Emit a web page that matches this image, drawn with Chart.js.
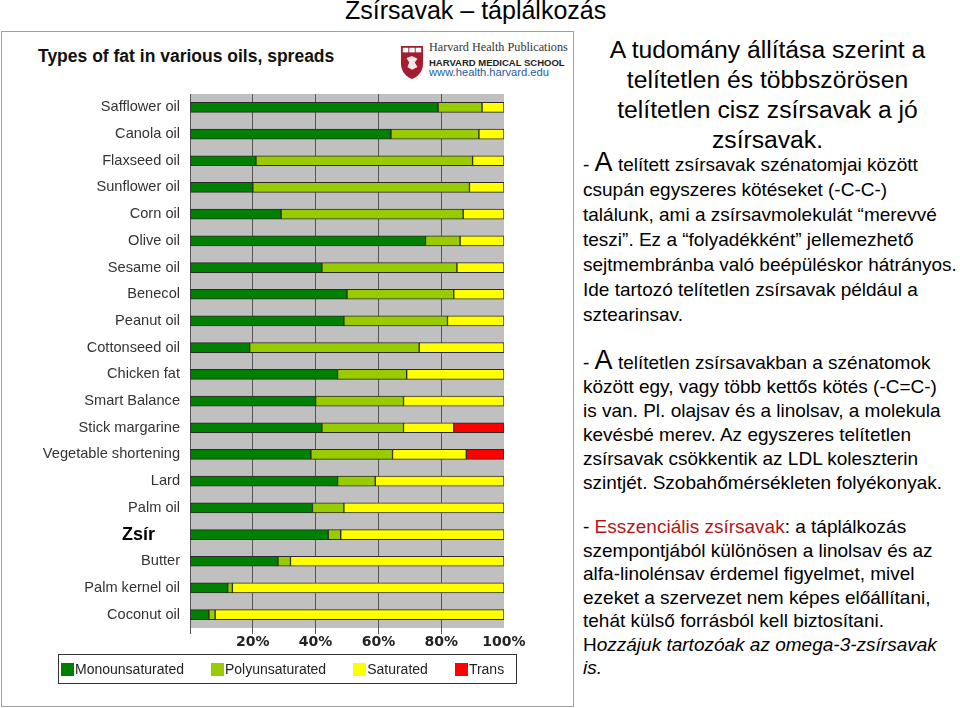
<!DOCTYPE html>
<html>
<head>
<meta charset="utf-8">
<script src="https://cdn.jsdelivr.net/npm/chart.js@4.4.1/dist/chart.umd.min.js"></script>
<style>
  html,body{margin:0;padding:0;background:#fff;}
  body{width:960px;height:708px;position:relative;overflow:hidden;font-family:"Liberation Sans",Arial,sans-serif;color:#000;}
  .abs{position:absolute;}
  #pageTitle{left:345px;top:-4px;font-size:25px;white-space:nowrap;}
  #frame{left:1px;top:31px;width:571px;height:674px;border:1px solid #a0a0a0;}
  #chartTitle{left:38px;top:46px;font-size:17.5px;font-weight:bold;color:#111;white-space:nowrap;}
  #hh1{left:429px;top:40px;font-family:"Liberation Serif",serif;font-size:12.2px;color:#333;white-space:nowrap;}
  #hh2{left:429px;top:57px;font-size:9.5px;font-weight:bold;color:#222;white-space:nowrap;}
  #hh3{left:429px;top:66px;font-size:11.2px;color:#2a5a9a;white-space:nowrap;}
  #shield{left:400px;top:45px;}
  #wrap{left:40px;top:88px;width:532px;height:568px;}
  #heading{left:575px;top:35px;width:385px;text-align:center;font-size:24.7px;line-height:30px;}
  .para{left:583px;font-size:19px;white-space:nowrap;}
  .big{font-size:27px;line-height:1px;}
  .red{color:#b01818;}
  #legend{left:58px;top:654px;width:455px;height:28px;border:1px solid #333;font-size:14px;color:#222;display:flex;align-items:center;padding-left:2px;box-sizing:content-box;white-space:nowrap;}
  #legend .item{display:flex;align-items:center;margin-right:27px;}
  #legend .sw{width:13px;height:13px;margin-right:1px;}
</style>
</head>
<body>
<div id="pageTitle" class="abs">Zsírsavak – táplálkozás</div>
<div id="frame" class="abs"></div>
<div id="chartTitle" class="abs">Types of fat in various oils, spreads</div>
<svg id="shield" class="abs" width="24" height="35" viewBox="0 0 26 38">
  <path d="M1 1 H25 V20 C25 30 18 35 13 37 C8 35 1 30 1 20 Z" fill="#a51c30"/>
  <rect x="3" y="3" width="6" height="5" fill="#fff"/>
  <rect x="10" y="3" width="6" height="5" fill="#fff"/>
  <rect x="17" y="3" width="6" height="5" fill="#fff"/>
  <path d="M7 14 L13 12 L19 15 L16 19 L19 24 L13 27 L8 24 L10 19 Z" fill="#f3e6e6"/>
</svg>
<div id="hh1" class="abs">Harvard Health Publications</div>
<div id="hh2" class="abs">HARVARD MEDICAL SCHOOL</div>
<div id="hh3" class="abs">www.health.harvard.edu</div>
<div id="wrap" class="abs"><canvas id="c"></canvas></div>
<div id="legend" class="abs"></div>

<div id="heading" class="abs">A tudomány állítása szerint a<br>telítetlen és többszörösen<br>telítetlen cisz zsírsavak a jó<br>zsírsavak.</div>
<div class="abs para" style="top:152px;line-height:25px;">- <span class="big">A</span> telített zsírsavak szénatomjai között<br>csupán egyszeres kötéseket (-C-C-)<br>találunk, ami a zsírsavmolekulát “merevvé<br>teszi”. Ez a “folyadékként” jellemezhető<br>sejtmembránba való beépüléskor hátrányos.<br>Ide tartozó telítetlen zsírsavak például a<br>sztearinsav.</div>
<div class="abs para" style="top:351px;line-height:24px;">- <span class="big">A</span> telítetlen zsírsavakban a szénatomok<br>között egy, vagy több kettős kötés (-C=C-)<br>is van. Pl. olajsav és a linolsav, a molekula<br>kevésbé merev. Az egyszeres telítetlen<br>zsírsavak csökkentik az LDL koleszterin<br>szintjét. Szobahőmérsékleten folyékonyak.</div>
<div class="abs para" style="top:515px;line-height:23.5px;">- <span class="red">Esszenciális zsírsavak</span>: a táplálkozás<br>szempontjából különösen a linolsav és az<br>alfa-linolénsav érdemel figyelmet, mivel<br>ezeket a szervezet nem képes előállítani,<br>tehát külső forrásból kell biztosítani.<br>H<i>ozzájuk tartozóak az omega-3-zsírsavak<br>is.</i></div>

<script>
const categories = ["Safflower oil","Canola oil","Flaxseed oil","Sunflower oil","Corn oil","Olive oil","Sesame oil","Benecol","Peanut oil","Cottonseed oil","Chicken fat","Smart Balance","Stick margarine","Vegetable shortening","Lard","Palm oil","Zsír","Butter","Palm kernel oil","Coconut oil"];
const monounsaturated = [79,64,21,20,29,75,42,50,49,19,47,40,42,38.5,47,39,44,28,12,6];
const polyunsaturated = [14,28,69,69,58,11,43,34,33,54,22,28,26,26,12,10,4,4,1.5,2];
const saturated = [7,8,10,11,13,14,15,16,18,27,31,32,16,23.5,41,51,52,68,86.5,92];
const trans = [null,null,null,null,null,null,null,null,null,null,null,null,16,12,null,null,null,null,null,null];
const seriesNames = ["Monounsaturated","Polyunsaturated","Saturated","Trans"];
const xTickValues = [20,40,60,80,100];

const colors = ["#008000","#99cc00","#ffff00","#ff0000"];
const highlightLabel = "Zsír";

const bgPlugin = {
  id:'bg',
  beforeDraw(chart){
    const {ctx, chartArea:a} = chart;
    ctx.save();
    ctx.fillStyle = '#c0c0c0';
    ctx.fillRect(a.left, a.top, a.right-a.left, a.bottom-a.top);
    ctx.restore();
  }
};

const data = {
  labels: categories,
  datasets: [monounsaturated, polyunsaturated, saturated, trans].map((arr,i)=>({
    label: seriesNames[i],
    data: arr,
    backgroundColor: colors[i],
    borderColor: '#2a2a2a',
    borderWidth: 1,
    borderSkipped: false,
    barThickness: 10
  }))
};

const chart = new Chart(document.getElementById('c'), {
  type: 'bar',
  data,
  plugins: [bgPlugin],
  options: {
    indexAxis: 'y',
    responsive: true,
    maintainAspectRatio: false,
    animation: false,
    layout: { padding: { top: 6, right: 68, bottom: 0, left: 0 } },
    scales: {
      x: {
        stacked: true,
        min: 0, max: 100,
        afterBuildTicks(scale){ scale.ticks = [0].concat(xTickValues).map(v=>({value:v})); },
        afterFit(scale){ scale.height = 28; scale.paddingLeft = 0; },
        ticks: {
          padding: 0,
          autoSkip: false,
          maxRotation: 0,
          color: '#222',
          font: { family: '"DejaVu Sans", Verdana, sans-serif', size: 14, weight: 'bold' },
          callback: v => v === 0 ? '' : v + '%'
        },
        grid: {
          color: c => (c.tick && c.tick.value === 100) ? 'rgba(0,0,0,0)' : '#555',
          lineWidth: 1,
          drawTicks: true,
          tickLength: 6
        },
        border: { display: false }
      },
      y: {
        stacked: true,
        afterFit(scale){ scale.width = 150; scale.paddingTop = 0; scale.paddingBottom = 0; },
        grid: { display: false, drawTicks: false },
        border: { display: false },
        ticks: {
          padding: 10,
          autoSkip: false,
          color: c => categories[c.index] === highlightLabel ? '#000' : '#333',
          font: c => categories[c.index] === highlightLabel
            ? { family: '"Liberation Sans", Arial, sans-serif', size: 18, weight: 'bold' }
            : { family: '"Liberation Sans", Arial, sans-serif', size: 14.6 },
          callback: function(v, i){
            const lab = categories[i];
            return lab === highlightLabel ? lab + '     ' : lab;
          }
        }
      }
    },
    plugins: {
      tooltip: { enabled: false },
      legend: { display: false }
    }
  }
});

// legend built from the chart's datasets
const lg = document.getElementById('legend');
chart.data.datasets.forEach(ds => {
  const it = document.createElement('div');
  it.className = 'item';
  const sw = document.createElement('span');
  sw.className = 'sw';
  sw.style.background = ds.backgroundColor;
  const tx = document.createElement('span');
  tx.textContent = ds.label;
  it.appendChild(sw); it.appendChild(tx);
  lg.appendChild(it);
});
</script>
</body>
</html>
